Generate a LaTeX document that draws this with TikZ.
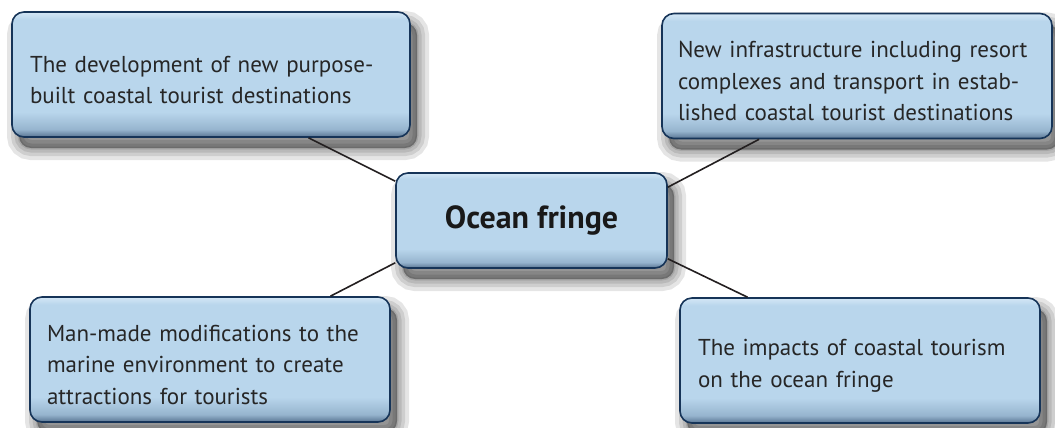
\documentclass[tikz,border=0pt]{standalone}
\usepackage{fontspec}
\setmainfont{PT Sans}
\usetikzlibrary{calc}

\definecolor{boxfill}{RGB}{185,214,236}
\definecolor{boxtop}{RGB}{212,231,246}
\definecolor{boxmid}{RGB}{150,180,206}
\definecolor{boxdark}{RGB}{88,116,146}
\definecolor{boxline}{RGB}{22,52,88}
\definecolor{linkline}{RGB}{35,31,32}

% light blue body, darker band along the bottom edge
\pgfdeclareverticalshading{boxshade}{100bp}{color(0bp)=(boxdark); color(25bp)=(boxdark);
  color(28bp)=(boxmid); color(35bp)=(boxfill); color(72bp)=(boxfill);
  color(75bp)=(boxtop); color(100bp)=(boxtop)}

\tikzset{
  shadowring/.style={preaction={draw=black,fill=black,line width=#1,opacity=.1,
    transform canvas={xshift=7pt,yshift=-11pt}}},
  bluebox/.style={shadowring=24pt,shadowring=16pt,shadowring=9pt,shadowring=3pt,
    draw=boxline,line width=1.6pt,shade,shading=boxshade,rounded corners=12pt},
  leafbox/.style={bluebox,align=left,font=\fontsize{23}{31.5}\selectfont,
    minimum height=125pt,inner ysep=0pt,text=black!85,
    execute at begin node=\rule{0pt}{27pt}},
  hubbox/.style={bluebox,align=center,font=\fontsize{32}{36}\selectfont\bfseries,
    minimum width=271pt,minimum height=95pt,inner sep=0pt,text=black!90}
}

\begin{document}
\begin{tikzpicture}[x=1pt,y=-1pt]
      \useasboundingbox (0,0) rectangle (1055,428);

      \node[hubbox] (fringe) at (531.5,220.5) {Ocean fringe};

      \node[leafbox,text width=362pt,inner xsep=18pt] (newdest) at (211,74.5)
        {The development of new purpose-\\built coastal tourist destinations};
      \node[leafbox,text width=358pt,inner xsep=16pt] (infra) at (857,76)
        {New infrastructure including resort\\complexes and transport in estab-\\lished coastal tourist destinations};
      \node[leafbox,text width=326pt,inner xsep=17pt] (modif) at (210,359.5)
        {Man-made modifications to the\\marine environment to create\\attractions for tourists};
      \node[leafbox,text width=324pt,inner xsep=18pt] (impacts) at (860,360.5)
        {The impacts of coastal tourism\\on the ocean fringe};

      \begin{scope}[every edge/.style={draw=linkline,line width=1.6pt}]
        \path ($(newdest.south west)!.744!(newdest.south east)$) edge ([yshift=-9pt]fringe.north west);
        \path ($(infra.south west)!.25!(infra.south east)$)      edge ([yshift=-15pt]fringe.north east);
        \path ($(modif.north west)!.833!(modif.north east)$)     edge ([yshift=6pt]fringe.south west);
        \path ($(impacts.north west)!.189!(impacts.north east)$) edge ([yshift=10pt]fringe.south east);
      \end{scope}

\end{tikzpicture}
\end{document}
